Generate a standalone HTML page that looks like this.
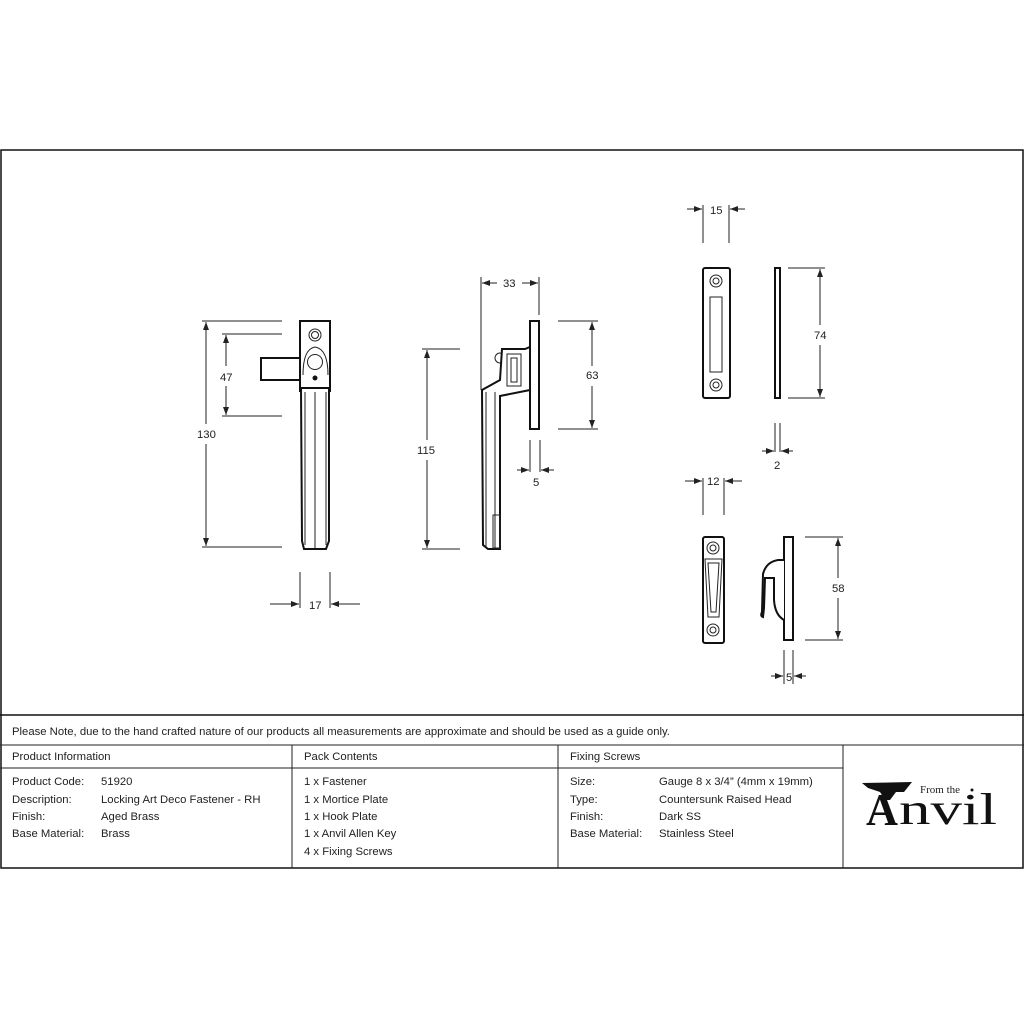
<!DOCTYPE html>
<html><head><meta charset="utf-8"><style>
html,body{margin:0;padding:0;background:#fff;width:1024px;height:1024px;overflow:hidden}
svg{display:block}
text{font-family:"Liberation Sans",sans-serif;font-size:11.3px;fill:#222}
.l{stroke:#222;stroke-width:1;fill:none}
.t{stroke:#111;stroke-width:1.5;fill:none}
.b{stroke:#111;stroke-width:2;fill:#fff}
</style></head><body>
<svg width="1024" height="1024" viewBox="0 0 1024 1024">
<defs><marker id="a" viewBox="0 0 8 6" refX="8" refY="3" markerWidth="8" markerHeight="6" orient="auto-start-reverse"><path d="M0,0L8,3L0,6z" fill="#222"/></marker></defs>
<rect x="1" y="150" width="1022" height="718" class="t"/>
<line x1="0" y1="715" x2="1024" y2="715" class="t"/>
<line x1="0" y1="745" x2="1024" y2="745" class="l"/>
<line x1="0" y1="768" x2="843" y2="768" class="l"/>
<line x1="292" y1="745" x2="292" y2="868" class="l"/>
<line x1="558" y1="745" x2="558" y2="868" class="l"/>
<line x1="843" y1="745" x2="843" y2="868" class="l"/>
<text x="12" y="735">Please Note, due to the hand crafted nature of our products all measurements are approximate and should be used as a guide only.</text>
<text x="12" y="760">Product Information</text><text x="304" y="760">Pack Contents</text><text x="570" y="760">Fixing Screws</text>
<g>
<text x="12" y="785">Product Code:</text><text x="101" y="785">51920</text>
<text x="12" y="803">Description:</text><text x="101" y="803">Locking Art Deco Fastener - RH</text>
<text x="12" y="820">Finish:</text><text x="101" y="820">Aged Brass</text>
<text x="12" y="837">Base Material:</text><text x="101" y="837">Brass</text>
<text x="304" y="785">1 x Fastener</text><text x="304" y="803">1 x Mortice Plate</text><text x="304" y="820">1 x Hook Plate</text><text x="304" y="837">1 x Anvil Allen Key</text><text x="304" y="855">4 x Fixing Screws</text>
<text x="570" y="785">Size:</text><text x="659" y="785">Gauge 8 x 3/4” (4mm x 19mm)</text>
<text x="570" y="803">Type:</text><text x="659" y="803">Countersunk Raised Head</text>
<text x="570" y="820">Finish:</text><text x="659" y="820">Dark SS</text>
<text x="570" y="837">Base Material:</text><text x="659" y="837">Stainless Steel</text>
</g>
<!-- logo -->
<path d="M862,783 L912,782 L904,792 L896,792 L890,800 L885,800 L880,792 L868,788 Z" fill="#111"/>
<text x="866" y="825" textLength="32" lengthAdjust="spacingAndGlyphs" style="font-family:'Liberation Serif',serif;font-size:46px;font-weight:bold;fill:#111">A</text>
<text x="899" y="824" textLength="98" lengthAdjust="spacingAndGlyphs" style="font-family:'Liberation Serif',serif;font-size:44px;fill:#111">nvil</text>
<text x="920" y="793" style="font-family:'Liberation Serif',serif;font-size:11px">From the</text>
<circle cx="972" cy="790" r="1.5" fill="#111"/>
<!-- front handle -->
<rect x="261" y="358" width="39" height="22" class="b"/>
<rect x="300" y="321" width="30" height="70" class="b"/>
<circle cx="315" cy="335" r="6" class="l" stroke-width="1.5"/><circle cx="315" cy="335" r="3.5" class="l"/>
<path d="M303,375 Q303,349 315,347 Q328,349 328,375" class="l" stroke-width="1.5"/>
<circle cx="315" cy="362" r="7.5" class="l" stroke-width="1.5"/>
<circle cx="315" cy="378" r="2.5" fill="#111"/>
<path d="M301,388 L329,388 L329,541 L326,549 L304,549 L302,541 Z" class="b"/>
<line x1="305" y1="392" x2="305" y2="545" class="l"/><line x1="315" y1="392" x2="315" y2="548" class="l"/><line x1="326" y1="392" x2="326" y2="545" class="l"/>
<!-- dims front -->
<line x1="202" y1="321" x2="282" y2="321" class="l"/><line x1="202" y1="547" x2="282" y2="547" class="l"/>
<line x1="206" y1="322" x2="206" y2="424" class="l" marker-start="url(#a)"/><line x1="206" y1="444" x2="206" y2="546" class="l" marker-end="url(#a)"/>
<text x="197" y="438">130</text>
<line x1="222" y1="334" x2="282" y2="334" class="l"/><line x1="222" y1="416" x2="282" y2="416" class="l"/>
<line x1="226" y1="335" x2="226" y2="366" class="l" marker-start="url(#a)"/><line x1="226" y1="386" x2="226" y2="415" class="l" marker-end="url(#a)"/>
<text x="220" y="381">47</text>
<line x1="300" y1="572" x2="300" y2="608" class="l"/><line x1="330" y1="572" x2="330" y2="608" class="l"/>
<line x1="270" y1="604" x2="299" y2="604" class="l" marker-end="url(#a)"/><line x1="360" y1="604" x2="331" y2="604" class="l" marker-end="url(#a)"/>
<text x="309" y="609">17</text>
<!-- side handle -->
<rect x="530" y="321" width="9" height="108" class="b"/>
<circle cx="500" cy="358" r="5" class="l" stroke-width="1.5"/>
<path d="M502,349 L525,349 L530,347 L530,390 L500,396 L500,549 L488,549 L483,545 L482,390 L500,380 Z" class="b"/>
<rect x="507" y="354" width="14" height="32" class="l" stroke-width="1.5"/>
<rect x="511" y="358" width="6" height="24" class="l"/>
<line x1="486" y1="392" x2="486" y2="547" class="l"/><line x1="495" y1="392" x2="495" y2="548" class="l"/>
<rect x="493" y="515" width="7" height="33" class="l"/>
<line x1="481" y1="277" x2="481" y2="390" class="l"/><line x1="539" y1="277" x2="539" y2="315" class="l"/>
<line x1="497" y1="283" x2="482" y2="283" class="l" marker-end="url(#a)"/><line x1="522" y1="283" x2="538" y2="283" class="l" marker-end="url(#a)"/>
<text x="503" y="287">33</text>
<line x1="422" y1="349" x2="460" y2="349" class="l"/><line x1="422" y1="549" x2="460" y2="549" class="l"/>
<line x1="427" y1="350" x2="427" y2="440" class="l" marker-start="url(#a)"/><line x1="427" y1="460" x2="427" y2="548" class="l" marker-end="url(#a)"/>
<text x="417" y="454">115</text>
<line x1="558" y1="321" x2="598" y2="321" class="l"/><line x1="558" y1="429" x2="598" y2="429" class="l"/>
<line x1="592" y1="322" x2="592" y2="366" class="l" marker-start="url(#a)"/><line x1="592" y1="386" x2="592" y2="428" class="l" marker-end="url(#a)"/>
<text x="586" y="379">63</text>
<line x1="530" y1="440" x2="530" y2="472" class="l"/><line x1="540" y1="440" x2="540" y2="472" class="l"/>
<line x1="517" y1="470" x2="529" y2="470" class="l" marker-end="url(#a)"/><line x1="554" y1="470" x2="541" y2="470" class="l" marker-end="url(#a)"/>
<text x="533" y="486">5</text>
<!-- mortice plate -->
<rect x="703" y="268" width="27" height="130" rx="2" class="b"/>
<circle cx="716" cy="281" r="6" class="l" stroke-width="1.5"/><circle cx="716" cy="281" r="3" class="l"/>
<circle cx="716" cy="385" r="6" class="l" stroke-width="1.5"/><circle cx="716" cy="385" r="3" class="l"/>
<rect x="710" y="297" width="12" height="75" class="l" stroke-width="1.5"/>
<rect x="775" y="268" width="5" height="130" class="b" stroke-width="1.5"/>
<line x1="703" y1="205" x2="703" y2="243" class="l"/><line x1="729" y1="205" x2="729" y2="243" class="l"/>
<line x1="687" y1="209" x2="702" y2="209" class="l" marker-end="url(#a)"/><line x1="745" y1="209" x2="730" y2="209" class="l" marker-end="url(#a)"/>
<text x="710" y="214">15</text>
<line x1="788" y1="268" x2="825" y2="268" class="l"/><line x1="788" y1="398" x2="825" y2="398" class="l"/>
<line x1="820" y1="269" x2="820" y2="325" class="l" marker-start="url(#a)"/><line x1="820" y1="345" x2="820" y2="397" class="l" marker-end="url(#a)"/>
<text x="814" y="339">74</text>
<line x1="775" y1="423" x2="775" y2="452" class="l"/><line x1="780" y1="423" x2="780" y2="452" class="l"/>
<line x1="762" y1="451" x2="774" y2="451" class="l" marker-end="url(#a)"/><line x1="793" y1="451" x2="781" y2="451" class="l" marker-end="url(#a)"/>
<text x="774" y="469">2</text>
<!-- hook plate -->
<line x1="703" y1="478" x2="703" y2="515" class="l"/><line x1="724" y1="478" x2="724" y2="515" class="l"/>
<line x1="685" y1="481" x2="702" y2="481" class="l" marker-end="url(#a)"/><line x1="742" y1="481" x2="725" y2="481" class="l" marker-end="url(#a)"/>
<text x="707" y="485">12</text>
<rect x="703" y="537" width="21" height="106" rx="2" class="b"/>
<circle cx="713" cy="548" r="6" class="l" stroke-width="1.5"/><circle cx="713" cy="548" r="3" class="l"/>
<circle cx="713" cy="630" r="6" class="l" stroke-width="1.5"/><circle cx="713" cy="630" r="3" class="l"/>
<path d="M705,559 L722,559 L719,617 L708,617 Z" class="l" stroke-width="1.5"/>
<path d="M708,563 L719,563 L716,612 L711,612 Z" class="l"/>
<rect x="784" y="537" width="9" height="103" class="b" stroke-width="1.5"/>
<path d="M784,560 L778,560 Q766,562 763,574 L762,612 Q760,616 763,617 L764,608 L765,578 L774,578 L774,600 Q775,615 784,620" class="b" stroke-width="1.5"/>
<line x1="805" y1="537" x2="843" y2="537" class="l"/><line x1="805" y1="640" x2="843" y2="640" class="l"/>
<line x1="838" y1="538" x2="838" y2="578" class="l" marker-start="url(#a)"/><line x1="838" y1="598" x2="838" y2="639" class="l" marker-end="url(#a)"/>
<text x="832" y="592">58</text>
<line x1="784" y1="650" x2="784" y2="684" class="l"/><line x1="793" y1="650" x2="793" y2="684" class="l"/>
<line x1="771" y1="676" x2="783" y2="676" class="l" marker-end="url(#a)"/><line x1="806" y1="676" x2="794" y2="676" class="l" marker-end="url(#a)"/>
<text x="786" y="681">5</text>
</svg>
</body></html>
